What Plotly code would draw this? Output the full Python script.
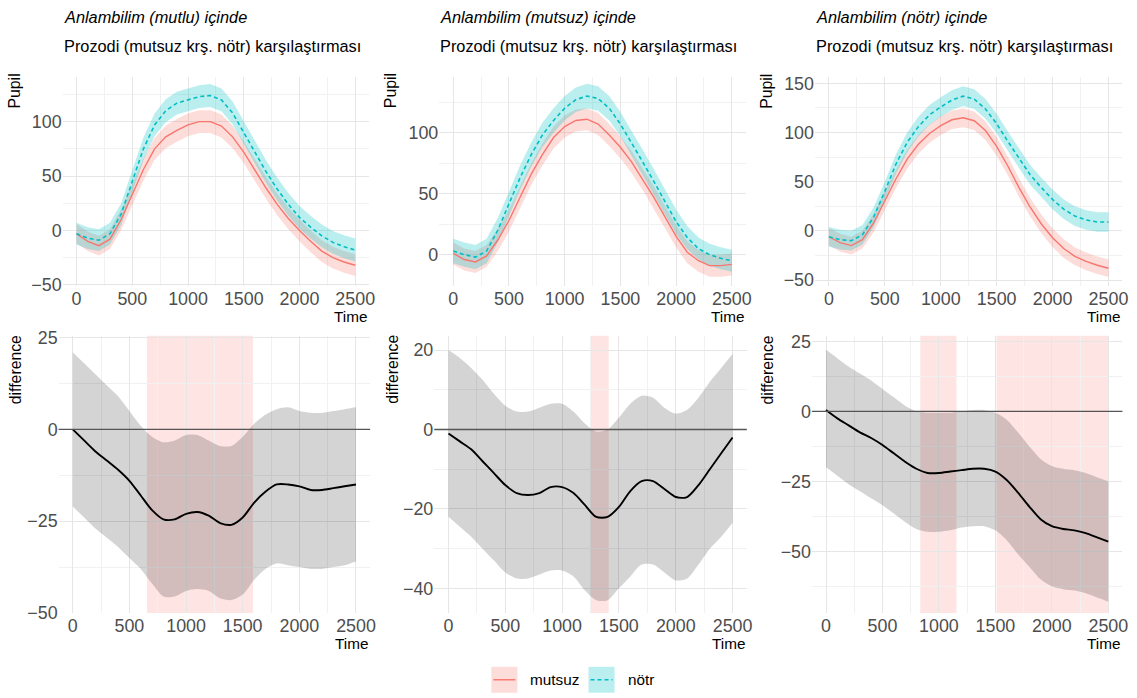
import plotly.graph_objects as go

# ---------------- data ----------------
TIME = [0, 100, 200, 300, 400, 500, 600, 700, 800, 900, 1000, 1100, 1200,
        1300, 1400, 1500, 1600, 1700, 1800, 1900, 2000, 2100, 2200, 2300, 2400, 2500]

TITLES = ["Anlambilim (mutlu) içinde", "Anlambilim (mutsuz) içinde", "Anlambilim (nötr) içinde"]
SUBTITLE = "Prozodi (mutsuz krş. nötr) karşılaştırması"
GROUPS = ["mutsuz", "nötr"]

# top row: fitted pupil curves
P1_MUTSUZ = [-3, -10, -14, -8, 10, 33, 56, 75, 86, 92, 97, 100, 100, 96, 86, 72, 55, 39, 24, 11, 0, -10, -19, -25, -29, -32]
P1_NOTR = [-3, -7, -9, -3, 15, 45, 75, 97, 110, 117, 120, 123, 124, 120, 108, 90, 72, 54, 38, 24, 12, 3, -5, -11, -15, -18]
P2_MUTSUZ = [1, -4, -6, -1, 12, 28, 47, 66, 82, 96, 105, 110, 111, 107, 98, 88, 76, 62, 47, 31, 15, 2, -5, -9, -9, -8]
P2_NOTR = [3, 0, -2, 3, 20, 42, 63, 82, 98, 110, 120, 127, 130, 128, 120, 107, 92, 76, 60, 43, 27, 14, 5, 0, -3, -5]
P3_MUTSUZ = [-6, -12, -15, -9, 8, 30, 53, 73, 88, 99, 107, 113, 115, 112, 102, 86, 66, 44, 24, 7, -7, -18, -26, -31, -35, -38]
P3_NOTR = [-6, -9, -10, -4, 14, 40, 68, 90, 106, 118, 126, 133, 137, 134, 124, 109, 91, 74, 57, 44, 32, 22, 15, 11, 9, 9]

# confidence half-widths
CI1_MUTSUZ = [9, 9, 9, 9, 9.5, 10, 10, 10, 10.5, 10.5, 10.5, 10.5, 10.5, 10.5, 10.5, 10, 10, 10, 10, 10, 10, 10, 10, 10, 10, 10]
CI1_NOTR = [10, 10, 10, 10, 10, 10.5, 10.5, 10.5, 10.5, 10.5, 10.5, 10.5, 10.5, 10.5, 10.5, 10.5, 10.5, 10.5, 10.5, 10.5, 10.5, 10.5, 10.5, 10.5, 10.5, 10.5]
CI2_MUTSUZ = [9, 9, 9, 9, 9, 9, 9, 9, 9, 9, 9, 9, 9, 9, 9, 9, 9, 9, 9, 9, 9, 9, 9, 9, 9, 9]
CI2_NOTR = [10, 10, 10, 10, 10, 10, 10, 10, 10, 10, 10, 10, 10, 10, 10, 10, 10, 10, 10, 10, 10, 9.5, 9, 9, 9, 9]
CI3_MUTSUZ = [9, 9, 9, 9, 9.5, 9.5, 9.5, 9.5, 9.5, 9.5, 9.5, 9.5, 9.5, 9.5, 9.5, 9.5, 9.5, 9.5, 9.5, 9.5, 9.5, 9.5, 9, 9, 9, 9]
CI3_NOTR = [10, 10, 10, 10, 10, 10, 10, 10, 10, 10, 10, 10, 10, 10, 10, 10, 10, 10, 10, 10, 10, 10, 10, 10, 10, 10]

# bottom row: difference curves with confidence band
D1 = [0, -3, -6, -8.5, -11, -14, -18, -22, -24.5, -24.5, -23, -22.5, -23.5, -25.5, -26, -24, -20, -17, -15, -15, -15.5, -16.5, -16.5, -16, -15.5, -15]
D1_UP = [21, 18, 15, 12, 9, 5, 1, -2, -3.5, -3, -1.5, -1.5, -3, -4.5, -4.5, -2, 1.5, 4, 5.5, 6, 5, 4.5, 4.5, 5, 5.5, 6]
D1_LO = [-21, -24, -27, -29.5, -32, -35, -38, -42, -45.5, -45.5, -44, -43.5, -44, -46, -46.5, -45, -41, -38, -36.5, -37, -37.5, -38, -38, -37.5, -37, -36]
D2 = [-1, -3, -5, -8, -11, -14, -16, -16.5, -16, -14.5, -14.5, -16, -19, -22, -22, -19.5, -15.5, -13, -13, -15, -17, -17, -14, -10, -6, -2]
D2_UP = [20, 18, 15.5, 12.5, 9, 6, 4.5, 4.5, 5.5, 6.5, 6.5, 4.5, 1.5, -0.5, 0, 3, 6.5, 8.5, 8, 5.5, 4, 5, 8, 12, 15.5, 19]
D2_LO = [-22, -24.5, -27, -30, -33, -36, -37.5, -37.5, -36.5, -35.5, -35.5, -37, -40.5, -43, -43, -40, -37, -34, -34, -36, -38, -37.5, -34, -30, -27, -23.5]
D3 = [0.5, -2.5, -5, -7.5, -9.5, -12, -15, -18, -20.5, -22, -22, -21.5, -21, -20.5, -20.5, -21.5, -24.5, -29, -34, -38.5, -41, -42, -42.5, -43.5, -45, -46.5]
D3_UP = [22, 19, 16, 13.5, 11, 8, 5, 2, 0, -0.5, -0.5, -0.5, 0, 0.5, 0.5, -0.5, -3, -7.5, -12.5, -17, -19.5, -20.5, -21, -22, -23.5, -25]
D3_LO = [-20, -23, -26, -28.5, -31, -33.5, -36.5, -39.5, -42, -43, -43, -42.5, -41.5, -41, -41, -42.5, -46, -51, -55.5, -60, -62.5, -63.5, -64, -65, -66.5, -68]

# significant time windows
SIG1 = [(655, 1590)]
SIG2 = [(1250, 1410)]
SIG3 = [(835, 1155), (1510, 2500)]

# ---------------- styling ----------------
W, H = 1137, 698
RED = "#F8766D"
CYAN = "#00BFC4"
RED_FILL = "rgba(248,118,109,0.25)"
CYAN_FILL = "rgba(0,191,196,0.27)"
SIG_FILL = "rgba(248,118,109,0.2)"
GREY_FILL = "rgba(0,0,0,0.17)"
FONT = "Liberation Sans, Arial, sans-serif"
TICK_COLOR = "#4d4d4d"
DASH = "4px,3px"

# target pixel positions (as seen in the reference picture)
TOP_Y = (75, 285)
BOT_Y = (335, 613)
TOP_X = [(63, 369), (439, 745), (814, 1121)]
BOT_X = [(59, 370), (434, 746), (811, 1121)]
TOP_RANGES = [(-51, 141.5), (-25.6, 146), (-56, 157)]
BOT_RANGES = [(-50, 25.5), (-46.2, 23.6), (-72, 27)]
TOP_DTICK = [50, 50, 50]
BOT_DTICK = [25, 20, 25]

# the photographed page appears slightly scaled; compensate
SX, OX = 0.993, 0.5
SY, OY = 0.977, 6.3
FS = 1.02  # font compensation


def px_x(p):
    return ((p - OX) / SX) / W


def px_y(p):
    return 1 - ((p - OY) / SY) / H


def fs(s):
    return s * FS


fig = go.Figure()

top_data = [
    (P1_MUTSUZ, CI1_MUTSUZ, P1_NOTR, CI1_NOTR),
    (P2_MUTSUZ, CI2_MUTSUZ, P2_NOTR, CI2_NOTR),
    (P3_MUTSUZ, CI3_MUTSUZ, P3_NOTR, CI3_NOTR),
]
bot_data = [(D1, D1_UP, D1_LO, SIG1), (D2, D2_UP, D2_LO, SIG2), (D3, D3_UP, D3_LO, SIG3)]

layout_axes = {}
annotations = []
shapes = []

for i in range(3):
    ti = i + 1
    bi = i + 4
    for idx, xr, yr, rng, dt in [
        (ti, TOP_X[i], TOP_Y, TOP_RANGES[i], TOP_DTICK[i]),
        (bi, BOT_X[i], BOT_Y, BOT_RANGES[i], BOT_DTICK[i]),
    ]:
        xn = "xaxis" if idx == 1 else f"xaxis{idx}"
        yn = "yaxis" if idx == 1 else f"yaxis{idx}"
        layout_axes[xn] = dict(
            domain=[px_x(xr[0]), px_x(xr[1])], anchor=f"y{'' if idx == 1 else idx}",
            range=[-125, 2625], tickmode="linear", tick0=0, dtick=500,
            showgrid=True, gridcolor="#e6e6e6", gridwidth=1,
            minor=dict(showgrid=True, tick0=0, dtick=250, gridcolor="#f1f1f1", gridwidth=0.6),
            zeroline=False, showline=False, ticks="",
            tickfont=dict(family=FONT, size=fs(17.5), color=TICK_COLOR),
        )
        layout_axes[yn] = dict(
            domain=[px_y(yr[1]), px_y(yr[0])], anchor=f"x{'' if idx == 1 else idx}",
            range=list(rng), tickmode="linear", tick0=0, dtick=dt,
            showgrid=True, gridcolor="#e6e6e6", gridwidth=1,
            minor=dict(showgrid=True, tick0=0, dtick=dt / 2, gridcolor="#f1f1f1", gridwidth=0.6),
            zeroline=False, showline=False, ticks="",
            tickfont=dict(family=FONT, size=fs(17.5), color=TICK_COLOR),
        )

    xa_t = "x" if ti == 1 else f"x{ti}"
    ya_t = "y" if ti == 1 else f"y{ti}"
    xa_b = f"x{bi}"
    ya_b = f"y{bi}"

    m_red, c_red, m_cy, c_cy = top_data[i]
    for mean, ci, fillc in [(m_red, c_red, RED_FILL), (m_cy, c_cy, CYAN_FILL)]:
        up = [m + c for m, c in zip(mean, ci)]
        lo = [m - c for m, c in zip(mean, ci)]
        fig.add_trace(go.Scatter(
            x=TIME + TIME[::-1], y=up + lo[::-1], fill="toself", fillcolor=fillc,
            line=dict(width=0), mode="lines", hoverinfo="skip", showlegend=False,
            xaxis=xa_t, yaxis=ya_t))
    fig.add_trace(go.Scatter(x=TIME, y=m_red, mode="lines", line=dict(color=RED, width=1.4),
                             showlegend=False, xaxis=xa_t, yaxis=ya_t, name=GROUPS[0]))
    fig.add_trace(go.Scatter(x=TIME, y=m_cy, mode="lines", line=dict(color=CYAN, width=1.6, dash=DASH),
                             showlegend=False, xaxis=xa_t, yaxis=ya_t, name=GROUPS[1]))

    d, dup, dlo, sig = bot_data[i]
    for (s0, s1) in sig:
        shapes.append(dict(type="rect", xref=xa_b, yref=f"{ya_b} domain", x0=s0, x1=s1, y0=0, y1=1,
                           fillcolor=SIG_FILL, line=dict(width=0), layer="below"))
    fig.add_trace(go.Scatter(
        x=TIME, y=dlo, mode="lines", line=dict(width=0, shape="spline", smoothing=0.8),
        hoverinfo="skip", showlegend=False, xaxis=xa_b, yaxis=ya_b))
    fig.add_trace(go.Scatter(
        x=TIME, y=dup, mode="lines", fill="tonexty", fillcolor=GREY_FILL,
        line=dict(width=0, shape="spline", smoothing=0.8),
        hoverinfo="skip", showlegend=False, xaxis=xa_b, yaxis=ya_b))
    shapes.append(dict(type="line", xref=f"{xa_b} domain", yref=ya_b, x0=0, x1=1, y0=0, y1=0,
                       line=dict(color="#555555", width=1.3), layer="above"))
    fig.add_trace(go.Scatter(x=TIME, y=d, mode="lines",
                             line=dict(color="black", width=1.9, shape="spline", smoothing=0.8),
                             showlegend=False, xaxis=xa_b, yaxis=ya_b))

    # titles
    annotations.append(dict(text=f"<i>{TITLES[i]}</i>", xref="paper", yref="paper",
                            x=px_x(TOP_X[i][0] - 1), y=px_y(15), xanchor="left", yanchor="middle",
                            showarrow=False, font=dict(family=FONT, size=fs(16), color="black")))
    annotations.append(dict(text=SUBTITLE, xref="paper", yref="paper",
                            x=px_x(TOP_X[i][0] - 1), y=px_y(44), xanchor="left", yanchor="middle",
                            showarrow=False, font=dict(family=FONT, size=fs(16), color="black")))
    # axis titles
    ycol = [15, 391, 766][i]
    annotations.append(dict(text="Pupil", xref="paper", yref="paper", x=px_x(ycol), y=px_y(89.5),
                            xanchor="center", yanchor="middle", textangle=-90, showarrow=False,
                            font=dict(family=FONT, size=fs(15.5), color="black")))
    annotations.append(dict(text="difference", xref="paper", yref="paper", x=px_x(ycol + 1), y=px_y(369),
                            xanchor="center", yanchor="middle", textangle=-90, showarrow=False,
                            font=dict(family=FONT, size=fs(15.5), color="black")))
    annotations.append(dict(text="Time", xref="paper", yref="paper", x=px_x(TOP_X[i][1]), y=px_y(316),
                            xanchor="right", yanchor="middle", showarrow=False,
                            font=dict(family=FONT, size=fs(15), color="black")))
    annotations.append(dict(text="Time", xref="paper", yref="paper", x=px_x(BOT_X[i][1]), y=px_y(644),
                            xanchor="right", yanchor="middle", showarrow=False,
                            font=dict(family=FONT, size=fs(15), color="black")))

# legend (manual)
LEG_Y = 680
shapes.append(dict(type="rect", xref="paper", yref="paper", x0=px_x(491), x1=px_x(517),
                   y0=px_y(693), y1=px_y(667), fillcolor=RED_FILL, line=dict(width=0)))
shapes.append(dict(type="line", xref="paper", yref="paper", x0=px_x(493), x1=px_x(515),
                   y0=px_y(LEG_Y), y1=px_y(LEG_Y), line=dict(color=RED, width=1.4)))
shapes.append(dict(type="rect", xref="paper", yref="paper", x0=px_x(588), x1=px_x(614),
                   y0=px_y(693), y1=px_y(667), fillcolor=CYAN_FILL, line=dict(width=0)))
shapes.append(dict(type="line", xref="paper", yref="paper", x0=px_x(590), x1=px_x(612),
                   y0=px_y(LEG_Y), y1=px_y(LEG_Y), line=dict(color=CYAN, width=1.6, dash=DASH)))
annotations.append(dict(text=GROUPS[0], xref="paper", yref="paper", x=px_x(528), y=px_y(LEG_Y),
                        xanchor="left", yanchor="middle", showarrow=False,
                        font=dict(family=FONT, size=fs(15), color="black")))
annotations.append(dict(text=GROUPS[1], xref="paper", yref="paper", x=px_x(625), y=px_y(LEG_Y),
                        xanchor="left", yanchor="middle", showarrow=False,
                        font=dict(family=FONT, size=fs(15), color="black")))

fig.update_layout(
    width=W, height=H, margin=dict(l=0, r=0, t=0, b=0),
    paper_bgcolor="white", plot_bgcolor="white",
    showlegend=False, shapes=shapes, annotations=annotations,
    font=dict(family=FONT),
    **layout_axes,
)

PAGE_FIX = (
    "var de=document.documentElement, b=document.body;"
    "[de,b].forEach(function(e){e.style.margin='0';e.style.padding='0';"
    "e.style.overflow='hidden';e.style.height='698px';e.style.width='1137px';});"
    "var g=document.getElementsByClassName('plotly-graph-div')[0];"
    "if(g&&g.parentElement){g.parentElement.style.height='698px';g.parentElement.style.overflow='hidden';"
    "g.parentElement.style.margin='0';}"
)

fig.write_html("out.html", config={"displayModeBar": False}, post_script=PAGE_FIX)
